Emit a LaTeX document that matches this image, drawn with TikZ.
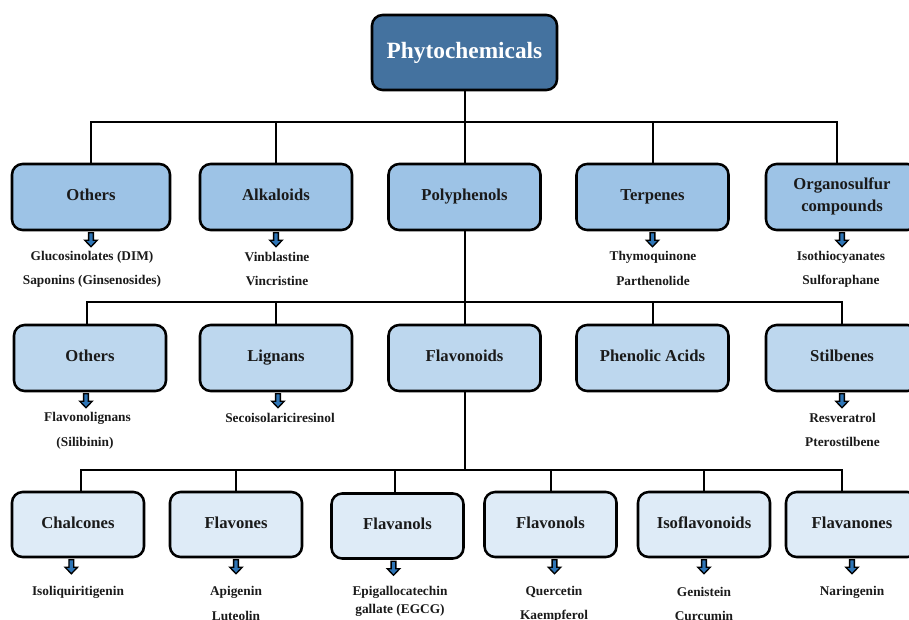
\documentclass[tikz,border=0pt]{standalone}
\usepackage{fontspec}
\setmainfont{Liberation Serif}
\definecolor{topblue}{HTML}{44729F}
\definecolor{lvlone}{HTML}{9DC3E6}
\definecolor{lvltwo}{HTML}{BDD7EE}
\definecolor{lvlthree}{HTML}{DEEBF7}
\definecolor{arrowblue}{HTML}{2E75B6}
\definecolor{txt}{HTML}{1A1A1A}
\begin{document}
\begin{tikzpicture}[x=0.75pt,y=-0.75pt,
  basebox/.style={draw=black, line width=1.9pt, rounded corners=8pt, inner sep=0pt,
    align=center, font=\bfseries\fontsize{12.5}{16.5}\selectfont, text=txt,
    execute at begin node={\vphantom{A}\rule[-3.2pt]{0pt}{3.2pt}}},
  topbox/.style={basebox, fill=topblue, text=white, minimum width=138.75pt, minimum height=56.25pt,
    font=\bfseries\fontsize{17.5}{20}\selectfont},
  boxone/.style={basebox, fill=lvlone, minimum width=114pt, minimum height=49.5pt},
  boxtwo/.style={basebox, fill=lvltwo, minimum width=114pt, minimum height=49.5pt},
  boxthree/.style={basebox, fill=lvlthree, minimum width=99pt, minimum height=48.75pt},
  conn/.style={draw=black, line width=1.5pt},
  lbl/.style={font=\bfseries\fontsize{10}{13.5}\selectfont, text=txt, inner sep=0pt, align=center},
  dnarrow/.pic={\draw[fill=arrowblue, line width=1pt, line join=miter]
     (-2.4,1.5) -- (-2.4,9) -- (-6.2,9) -- (0,15.5) -- (6.2,9) -- (2.4,9) -- (2.4,1.5) -- cycle;}
]
\useasboundingbox (0,0) rectangle (909,620);

% top
\node[topbox] (top) at (464.5,52.5) {Phytochemicals};

% row 1
\node[boxone, minimum width=118.5pt] (oth1) at (91,197) {Others};
\node[boxone] (alk) at (276,197) {Alkaloids};
\node[boxone] (poly) at (464.5,197) {Polyphenols};
\node[boxone] (terp) at (652.5,197) {Terpenes};
\node[boxone] (org) at (842,197) {Organosulfur\\compounds};

\coordinate (b1) at (464.5,122);
\draw[conn] (top.south) -- (b1);
\draw[conn] (b1) -| (oth1.north);
\draw[conn] (b1) -| ([xshift=-3.75pt]org.north);
\draw[conn] (alk.north) -- (alk.north |- b1);
\draw[conn] (poly.north) -- (b1);
\draw[conn] (terp.north) -- (terp.north |- b1);

\pic at (oth1.south) {dnarrow};
\pic at (alk.south) {dnarrow};
\pic at (terp.south) {dnarrow};
\pic at (org.south) {dnarrow};

\node[lbl] (gluc) at (92,257) {Glucosinolates (DIM)};
\node[lbl] (sapo) at (92,281) {Saponins (Ginsenosides)};
\node[lbl] (vinb) at (277,257) {Vinblastine};
\node[lbl] (vinc) at (277,281) {Vincristine};
\node[lbl] (thym) at (653,257) {Thymoquinone};
\node[lbl] (part) at (653,281) {Parthenolide};
\node[lbl] (isot) at (841,257) {Isothiocyanates};
\node[lbl] (sulf) at (841,281) {Sulforaphane};

% row 2
\node[boxtwo] (oth2) at (90,358) {Others};
\node[boxtwo] (lig) at (276,358) {Lignans};
\node[boxtwo] (flav) at (464.5,358) {Flavonoids};
\node[boxtwo] (phen) at (652.5,358) {Phenolic Acids};
\node[boxtwo] (stil) at (842,358) {Stilbenes};

\coordinate (b2) at (464.5,302);
\draw[conn] (poly.south) -- (b2);
\draw[conn] (b2) -| ([xshift=-2.25pt]oth2.north);
\draw[conn] (b2) -| (stil.north);
\draw[conn] (lig.north) -- (lig.north |- b2);
\draw[conn] (flav.north) -- (b2);
\draw[conn] (phen.north) -- (phen.north |- b2);

\pic at ([xshift=-3pt]oth2.south) {dnarrow};
\pic at ([xshift=1.5pt]lig.south) {dnarrow};
\pic at (stil.south) {dnarrow};

\node[lbl] (flig) at (87.5,418) {Flavonolignans};
\node[lbl] (sili) at (85,443) {(Silibinin)};
\node[lbl] (seco) at (280,418) {Secoisolariciresinol};
\node[lbl] (resv) at (842.5,418) {Resveratrol};
\node[lbl] (pter) at (842.5,442) {Pterostilbene};

% row 3
\node[boxthree] (chal) at (78,524.5) {Chalcones};
\node[boxthree] (flvs) at (236,524.5) {Flavones};
\node[boxthree] (flnl) at (397.5,526) {Flavanols};
\node[boxthree] (flvl) at (550.5,524.5) {Flavonols};
\node[boxthree] (iso) at (704,524.5) {Isoflavonoids};
\node[boxthree] (flvn) at (852,524.5) {Flavanones};

\coordinate (b3) at (464.5,470);
\draw[conn] (flav.south) -- (b3);
\draw[conn] (b3) -| ([xshift=2.25pt]chal.north);
\draw[conn] (b3) -| ([xshift=-7.5pt]flvn.north);
\draw[conn] (flvs.north) -- (flvs.north |- b3);
\draw[conn] ([xshift=-1.9pt]flnl.north) -- ([xshift=-1.9pt]flnl.north |- b3);
\draw[conn] (flvl.north) -- (flvl.north |- b3);
\draw[conn] (iso.north) -- (iso.north |- b3);

\pic at ([xshift=-5pt]chal.south) {dnarrow};
\pic at (flvs.south) {dnarrow};
\pic at ([xshift=-3pt]flnl.south) {dnarrow};
\pic at ([xshift=3pt]flvl.south) {dnarrow};
\pic at (iso.south) {dnarrow};
\pic at (flvn.south) {dnarrow};

\node[lbl] (isol) at (78,592) {Isoliquiritigenin};
\node[lbl] (apig) at (236,592) {Apigenin};
\node[lbl] (lute) at (236,616) {Luteolin};
\node[lbl] (egcg) at (400,601) {Epigallocatechin\\gallate (EGCG)};
\node[lbl] (quer) at (554,592) {Quercetin};
\node[lbl] (kaem) at (554,616) {Kaempferol};
\node[lbl] (geni) at (704,592) {Genistein};
\node[lbl] (curc) at (704,616) {Curcumin};
\node[lbl] (nari) at (852,592) {Naringenin};
\end{tikzpicture}
\end{document}
